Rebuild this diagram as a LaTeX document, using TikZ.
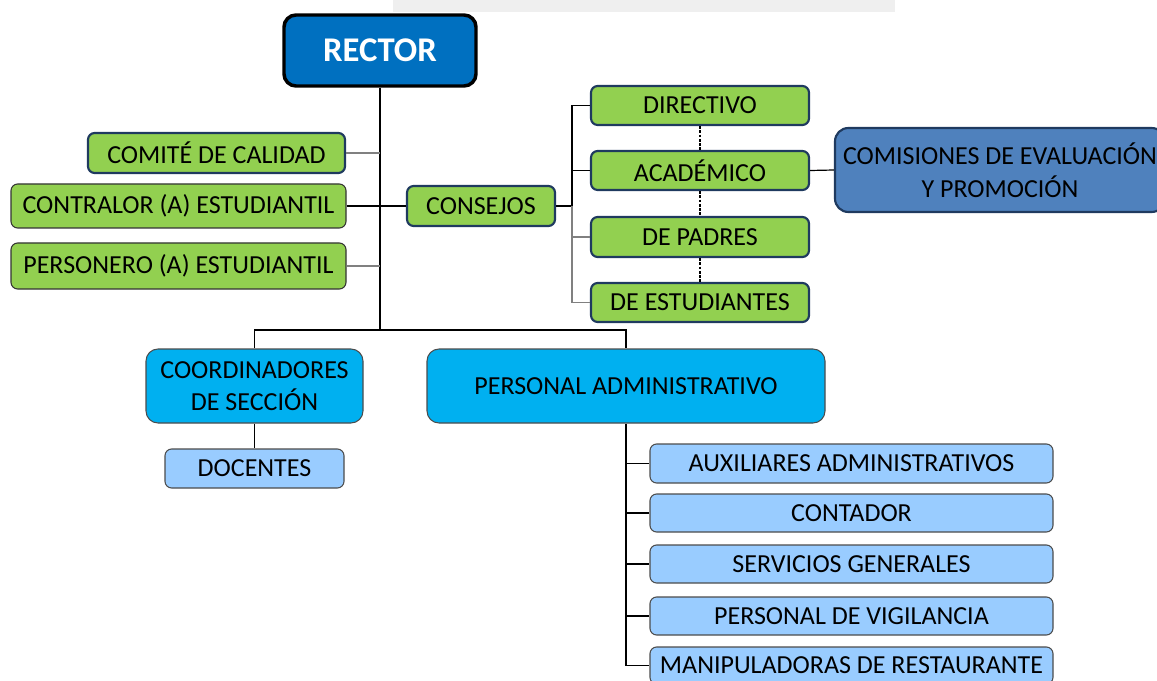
\documentclass[tikz,border=0pt]{standalone}
\usepackage{fontspec}
\setmainfont{Carlito}
\usetikzlibrary{fit}
\definecolor{gfill}{HTML}{92D050}
\definecolor{rfill}{HTML}{0070C0}
\definecolor{cfill}{HTML}{4F81BD}
\definecolor{sfill}{HTML}{00B0F0}
\definecolor{lfill}{HTML}{99CCFF}
\definecolor{navy}{HTML}{1F3A5F}
\definecolor{wm}{HTML}{EFEFEF}
\tikzset{
  base/.style={rounded corners=5pt, inner sep=0pt},
  gbox/.style={base, fill=gfill, draw=navy, line width=1.6pt},
  gthin/.style={base, fill=gfill, draw=black!80, line width=0.8pt},
  rbox/.style={base, fill=rfill, draw=black, line width=2.6pt, rounded corners=9pt},
  cbox/.style={base, fill=cfill, draw=navy, line width=1.6pt, rounded corners=10pt},
  sbox/.style={base, fill=sfill, draw=black!70, line width=0.8pt, rounded corners=9pt},
  lbox/.style={base, fill=lfill, draw=black!70, line width=0.8pt},
  txt/.style={inner sep=0pt, align=center, font=\fontsize{19.5}{24.5}\selectfont},
  rtxt/.style={inner sep=0pt, text=white, font=\fontsize{26}{30}\selectfont\bfseries},
  conn/.style={draw=black, line width=0.9pt},
  gconn/.style={draw=black!50, line width=0.9pt},
  dconn/.style={draw=black, line width=1.3pt, dash pattern=on 2pt off 1.2pt},
}
\newcommand{\bx}[8][txt]{\node[#3, fit={(#4,#5) (#6,#7)}] (#2) {};
  \node[#1] (#2-t) at (#2.center) {#8};}
\begin{document}
\begin{tikzpicture}[x=0.75pt,y=-0.75pt]
\useasboundingbox (0,0) rectangle (1157,681);
\fill[wm] (393,0) rectangle (895,12);
% nodes
\bx[rtxt]{rector}{rbox}{284}{15}{476}{86}{RECTOR}
\bx{comite}{gbox}{88}{133}{345}{173}{COMITÉ DE CALIDAD}
\bx{contralor}{gthin}{11}{184}{346}{228}{CONTRALOR (A) ESTUDIANTIL}
\bx{personero}{gthin}{11}{243}{346}{289}{PERSONERO (A) ESTUDIANTIL}
\bx{consejos}{gbox}{407}{186}{555}{226}{CONSEJOS}
\bx{directivo}{gbox}{591}{86}{809}{125}{DIRECTIVO}
\bx{academico}{gbox}{591}{151}{809}{190}{ACADÉMICO}
\bx{padres}{gbox}{591}{217}{809}{257}{DE PADRES}
\bx{estudiantes}{gbox}{591}{283}{809}{322}{DE ESTUDIANTES}
\bx{comisiones}{cbox}{835}{128}{1165}{212}{COMISIONES DE EVALUACIÓN\\Y PROMOCIÓN}
\bx{coord}{sbox}{146}{349}{363}{423}{COORDINADORES\\DE SECCIÓN}
\bx{adm}{sbox}{427}{349}{825}{423}{PERSONAL ADMINISTRATIVO}
\bx{docentes}{lbox}{165}{449}{344}{488}{DOCENTES}
\bx{aux}{lbox}{650}{444}{1053}{483}{AUXILIARES ADMINISTRATIVOS}
\bx{contador}{lbox}{650}{494}{1053}{532}{CONTADOR}
\bx{servicios}{lbox}{650}{545}{1053}{583}{SERVICIOS GENERALES}
\bx{vigilancia}{lbox}{650}{597}{1053}{635}{PERSONAL DE VIGILANCIA}
\bx{manip}{lbox}{650}{647}{1053}{684}{MANIPULADORAS DE RESTAURANTE}
% junctions
\coordinate (jbus) at (rector.south |- 0,330);
\coordinate (cb) at (572,206);
\coordinate (pb) at (adm.south);
% connectors
\draw[conn] (rector.south) -- (jbus);
\draw[gconn] (comite.east) -- (comite.east -| rector.south);
\draw[conn] (contralor.east) -- (consejos.west);
\draw[gconn] (personero.east) -- (personero.east -| rector.south);
\draw[conn] (consejos.east) -- (cb);
\draw[conn] (directivo.west) -- (directivo.west -| cb) -- (cb);
\draw[gconn] (cb) -- (estudiantes.west -| cb) -- (estudiantes.west);
\draw[conn] (academico.west -| cb) -- (academico.west);
\draw[gconn] (padres.west -| cb) -- (padres.west);
\draw[dconn] (directivo.south) -- (academico.north);
\draw[dconn] (academico.south) -- (padres.north);
\draw[dconn] (padres.south) -- (estudiantes.north);
\draw[conn] (academico.east) -- (comisiones.west);
\draw[conn] (coord.north) -- (coord.north |- jbus) -- (adm.north |- jbus) -- (adm.north);
\draw[conn] (coord.south) -- (docentes.north);
\draw[conn] (pb) -- (pb |- manip.west) -- (manip.west);
\draw[conn] (pb |- aux.west) -- (aux.west);
\draw[conn] (pb |- contador.west) -- (contador.west);
\draw[conn] (pb |- servicios.west) -- (servicios.west);
\draw[conn] (pb |- vigilancia.west) -- (vigilancia.west);
\end{tikzpicture}
\end{document}
